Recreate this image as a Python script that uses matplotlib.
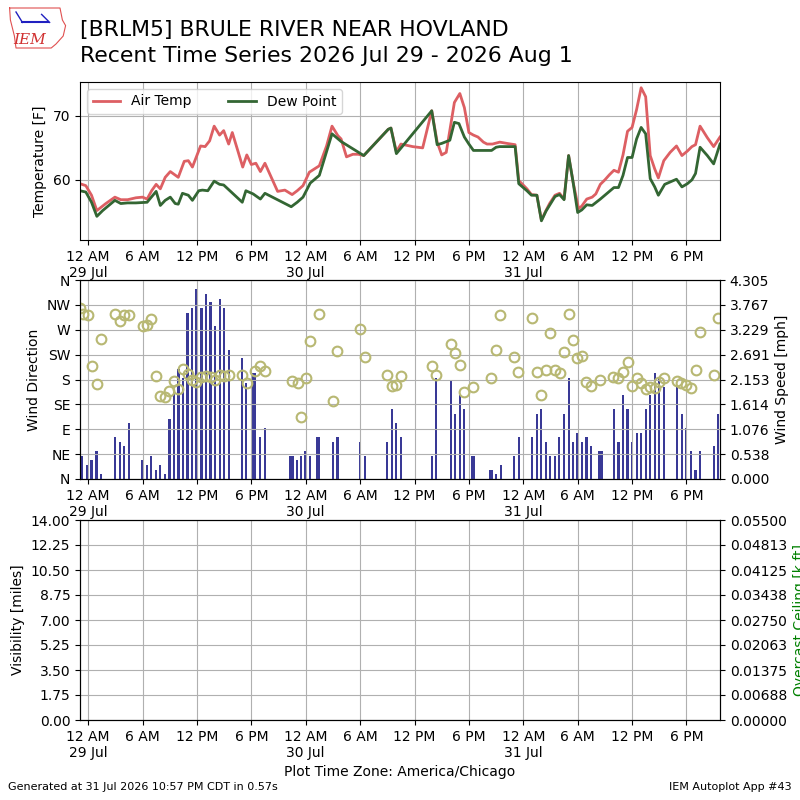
import numpy as np
import matplotlib
matplotlib.use("Agg")
import matplotlib.pyplot as plt
from matplotlib.lines import Line2D

# hours after 12 AM 29 Jul (America/Chicago)
temp_hours = [-0.9, -0.26, 0.37, 0.96, 1.95, 2.95, 3.6, 4.35, 5.27, 6.0, 6.5, 7.0, 7.5, 7.96, 8.5, 9.06,
              9.94, 10.6, 11.05, 11.5, 12.4, 12.9, 13.4, 13.9, 14.5, 14.95, 15.5, 15.9, 16.5, 17.05, 17.5,
              18.0, 18.5, 19.0, 19.5, 20.2, 20.9, 21.7, 22.5, 23.06, 23.7, 24.4, 25.5, 26.3, 26.9, 27.55,
              27.9, 28.5, 29.2, 29.8, 30.4, 33.1, 33.4, 34.0, 34.5, 35.8, 36.9, 37.9, 38.5, 39.0, 39.5,
              40.4, 41.0, 41.5, 42.0, 42.5, 43.0, 43.6, 44.0, 44.6, 45.4, 46.2, 47.1, 47.5, 48.4, 48.9,
              49.5, 50.0, 50.5, 50.9, 51.5, 52.0, 52.5, 53.0, 53.5, 54.1, 54.45, 55.0, 55.6, 56.0, 56.5,
              57.0, 57.5, 58.0, 58.5, 59.0, 59.5, 60.0, 60.5, 61.0, 61.5, 62.0, 62.5, 62.9, 63.5, 64.2,
              64.9, 65.5, 66.1, 66.6, 67.0, 67.5, 68.3, 69.0, 69.7]
temp_vals = [59.4, 59.1, 57.6, 55.2, 56.3, 57.3, 56.9, 56.9, 57.2, 57.3, 57.0, 58.3, 59.3, 58.6, 60.4, 61.3,
             60.4, 62.9, 63.0, 62.0, 65.3, 65.2, 66.1, 68.4, 67.0, 67.7, 65.6, 67.4, 64.6, 62.0, 63.9,
             62.4, 62.6, 61.3, 62.6, 60.4, 58.2, 58.4, 57.7, 58.3, 59.1, 61.2, 62.2, 65.3, 68.4, 66.9,
             66.4, 63.6, 64.0, 64.0, 63.8, 67.9, 68.1, 64.4, 65.6, 65.2, 65.0, 70.8, 65.9, 63.9, 64.3,
             72.1, 73.5, 71.3, 67.4, 67.0, 66.7, 65.9, 65.6, 65.6, 65.9, 65.7, 65.5, 59.9, 58.6, 57.7,
             57.6, 53.7, 55.2, 56.3, 57.6, 57.9, 57.0, 63.8, 59.6, 55.5, 55.9, 57.0, 57.3, 57.8, 59.3,
             60.0, 60.8, 61.5, 61.2, 63.9, 67.6, 68.2, 71.0, 74.4, 73.0, 63.8, 61.7, 60.3, 63.0, 64.3,
             65.3, 63.8, 64.5, 65.2, 65.5, 68.4, 66.6, 65.2, 66.7]

dwpt_hours = [-0.9, -0.26, 0.37, 0.96, 1.6, 2.95, 3.6, 4.35, 5.27, 6.5, 7.5, 7.96, 8.5, 9.06, 9.6, 9.94,
              10.4, 11.05, 11.5, 12.2, 12.6, 13.2, 13.9, 14.5, 14.95, 17.0, 17.4, 18.2, 19.0, 19.5, 22.4,
              23.06, 23.7, 24.5, 25.5, 26.9, 27.9, 30.4, 33.1, 33.4, 34.0, 37.9, 38.5, 39.0, 39.9, 40.4,
              40.9, 41.5, 42.0, 42.5, 44.5, 45.0, 45.4, 47.1, 47.5, 48.4, 48.9, 49.5, 50.0, 50.5, 51.5,
              52.0, 52.5, 53.0, 53.5, 54.0, 54.45, 55.0, 55.6, 56.5, 58.0, 58.5, 59.0, 59.5, 60.0, 60.5,
              61.0, 61.5, 62.0, 62.5, 62.9, 63.6, 64.9, 65.5, 66.1, 66.6, 67.0, 67.5, 68.3, 69.0, 69.7]
dwpt_vals = [58.3, 58.1, 56.5, 54.3, 55.2, 56.8, 56.3, 56.4, 56.4, 56.5, 58.2, 56.0, 56.8, 57.3, 56.3, 56.2,
             57.9, 57.6, 56.8, 58.3, 58.4, 58.3, 59.8, 59.3, 59.2, 56.5, 58.3, 57.8, 57.0, 57.9, 55.8,
             56.5, 57.3, 59.5, 60.7, 67.2, 66.0, 63.8, 67.9, 68.1, 64.1, 70.8, 65.5, 65.7, 66.2, 69.0,
             68.8, 66.7, 65.6, 64.6, 64.6, 65.1, 65.2, 65.2, 59.4, 58.3, 57.6, 57.6, 53.6, 55.1, 57.4,
             57.7, 56.9, 63.8, 59.6, 54.9, 55.3, 56.1, 56.0, 57.0, 58.8, 58.8, 60.7, 63.5, 63.5, 66.4,
             68.2, 67.2, 60.2, 58.9, 57.6, 59.3, 60.1, 58.9, 59.4, 60.0, 61.0, 65.1, 63.8, 62.5, 65.6]

wind_hours = [-0.66, -0.1, 0.37, 0.92, 1.44, 2.95, 3.47, 3.95, 4.5, 5.9, 6.46, 6.94, 7.45, 7.93, 8.45, 8.97,
              9.5, 9.96, 10.5, 10.96, 11.5, 11.9, 12.5, 13.0, 13.5, 14.0, 14.5, 15.0, 15.5, 17.0, 17.45,
              18.2, 18.45, 19.0, 19.5, 22.3, 22.55, 23.0, 23.5, 23.9, 24.5, 25.25, 25.5, 27.0, 27.5, 30.0,
              30.5, 33.0, 33.5, 34.0, 34.5, 37.96, 38.4, 40.0, 40.5, 41.0, 41.5, 42.3, 42.55, 44.3, 44.55,
              45.0, 45.5, 47.0, 47.5, 48.95, 49.5, 49.95, 50.5, 50.95, 51.5, 51.9, 52.5, 53.0, 53.45, 53.9,
              54.5, 54.97, 55.45, 56.4, 56.65, 58.0, 58.5, 59.0, 59.5, 60.0, 60.5, 61.0, 61.5, 62.0, 62.5,
              63.0, 63.5, 65.0, 65.5, 65.95, 66.5, 67.0, 67.5, 69.0, 69.5]
wind_speed = [0.49, 0.30, 0.41, 0.60, 0.11, 0.90, 0.80, 0.71, 1.21, 0.41, 0.30, 0.49, 0.19, 0.30, 0.11, 1.29,
              1.89, 2.39, 2.19, 3.60, 3.71, 4.10, 3.71, 4.00, 3.82, 3.30, 3.90, 3.71, 2.80, 2.61, 2.07,
              2.30, 2.30, 0.90, 1.10, 0.49, 0.49, 0.41, 0.49, 0.60, 0.49, 0.90, 0.90, 0.80, 0.90, 0.80,
              0.49, 0.80, 1.51, 1.21, 0.90, 0.49, 2.19, 2.11, 1.41, 1.81, 1.51, 0.49, 0.49, 0.19, 0.19,
              0.11, 0.30, 0.49, 0.90, 0.90, 1.40, 1.51, 0.80, 0.49, 0.49, 0.90, 1.40, 2.19, 0.80, 0.99,
              0.80, 0.90, 0.71, 0.60, 0.60, 1.51, 0.80, 1.81, 1.51, 0.80, 0.99, 0.99, 1.51, 1.81, 2.30,
              2.19, 2.00, 2.00, 1.40, 1.10, 0.60, 0.19, 0.60, 0.71, 1.40]

dir_hours = [-0.9, -0.6, -0.04, 0.44, 1.0, 1.44, 2.95, 3.47, 3.95, 4.5, 6.0, 6.46, 6.97, 7.45, 7.93, 8.49,
             8.97, 9.5, 9.96, 10.5, 10.96, 11.5, 11.9, 12.5, 13.0, 13.5, 14.0, 14.5, 15.0, 15.5, 17.0, 17.5,
             18.4, 19.0, 19.5, 22.5, 23.1, 23.5, 24.0, 24.5, 25.5, 27.0, 27.5, 30.0, 30.5, 33.0, 33.5,
             34.0, 34.5, 37.9, 38.4, 40.0, 40.5, 41.0, 41.5, 42.5, 44.4, 45.0, 45.45, 47.0, 47.4, 48.95,
             49.5, 49.95, 50.5, 51.0, 51.5, 52.0, 52.5, 53.0, 53.45, 53.9, 54.5, 54.97, 55.45, 56.5,
             57.95, 58.5, 59.0, 59.5, 60.0, 60.5, 61.0, 61.5, 62.0, 62.5, 63.0, 63.5, 64.97, 65.4, 65.9,
             66.45, 67.0, 67.5, 69.0, 69.5]
dir_vals = [309, 299, 296, 204, 171, 253, 298, 286, 297, 297, 276, 278, 289, 187, 151, 149,
            159, 178, 162, 199, 190, 179, 176, 185, 187, 185, 180, 189, 187, 189, 188, 174,
            196, 204, 195, 177, 174, 113, 183, 250, 299, 141, 232, 271, 221, 189, 168,
            170, 186, 204, 189, 245, 228, 207, 157, 166, 182, 234, 296, 220, 194, 291,
            194, 152, 197, 264, 197, 192, 229, 298, 251, 218, 222, 175, 169, 179,
            185, 182, 194, 211, 168, 182, 173, 162, 167, 165, 175, 183, 177, 173, 170,
            165, 198, 266, 188, 292]

dir_labels = ["N", "NE", "E", "SE", "S", "SW", "W", "NW", "N"]
day_labels = ["29 Jul", "30 Jul", "31 Jul"]

# x ticks every 6 hours
tick_hours = list(range(0, 67, 6))
tick_text = []
for h in tick_hours:
    hod = h % 24
    lab = {0: "12 AM", 6: "6 AM", 12: "12 PM", 18: "6 PM"}[hod]
    if hod == 0:
        lab += "\n" + day_labels[h // 24]
    tick_text.append(lab)

xmin, xmax = min(temp_hours), max(temp_hours)

fig = plt.figure(figsize=(8, 8), dpi=100)

def setup_x(ax):
    ax.set_xlim(xmin, xmax)
    ax.set_xticks(tick_hours)
    ax.set_xticklabels(tick_text)
    ax.grid(True, color="#b0b0b0")

#* temperature panel
ax1 = fig.add_axes([0.1, 0.70, 0.8, 0.1975])
ax1.plot(temp_hours, temp_vals, color="#dd5f63", lw=2, label="Air Temp")
ax1.plot(dwpt_hours, dwpt_vals, color="#336633", lw=2, label="Dew Point")
ax1.set_ylim(50.6, 75.3)
ax1.set_yticks([60, 70])
ax1.set_ylabel("Temperature [F]")
setup_x(ax1)
ax1.legend(loc="upper left", ncol=2, columnspacing=2.6)

#* wind panel
ax2 = fig.add_axes([0.1, 0.40125, 0.8, 0.24875])
ax2b = ax2.twinx()
ax2b.bar(wind_hours, wind_speed, width=0.24, color="#393996")
spd_max = 4.3052
ax2b.set_ylim(0, spd_max)
ax2b.set_yticks(np.linspace(0, spd_max, 9))
ax2b.set_yticklabels(["%.3f" % v for v in np.linspace(0, spd_max, 9)])
ax2b.set_ylabel("Wind Speed [mph]")
ax2.set_zorder(ax2b.get_zorder() + 1)
ax2.patch.set_visible(False)
ax2.plot(dir_hours, dir_vals, "o", mfc="none", mec="#b8b873", ms=7, mew=1.5)
ax2.set_ylim(0, 360)
ax2.set_yticks(range(0, 361, 45))
ax2.set_yticklabels(dir_labels)
ax2.set_ylabel("Wind Direction")
setup_x(ax2)

#* visibility panel (no data)
ax3 = fig.add_axes([0.1, 0.10, 0.8, 0.25])
ax3.set_ylim(0, 14)
ax3.set_yticks(np.arange(0, 14.01, 1.75))
ax3.set_yticklabels(["%.2f" % v for v in np.arange(0, 14.01, 1.75)])
ax3.set_ylabel("Visibility [miles]")
setup_x(ax3)
ax3.set_xlabel("Plot Time Zone: America/Chicago")
ax3b = ax3.twinx()
ax3b.set_ylim(0, 0.055)
ax3b.set_yticks(np.linspace(0, 0.055, 9))
ax3b.set_yticklabels(["%.5f" % v for v in np.linspace(0, 0.055, 9)])
ax3b.set_ylabel("Overcast Ceiling [k ft]", color="green")

#* titles and footer
fig.text(0.1, 0.9625, "[BRLM5] BRULE RIVER NEAR HOVLAND", fontsize=15.8, va="center")
fig.text(0.1, 0.93, "Recent Time Series 2026 Jul 29 - 2026 Aug 1", fontsize=15.8, va="center")
fig.text(0.01, 0.012, "Generated at 31 Jul 2026 10:57 PM CDT in 0.57s", fontsize=8)
fig.text(0.99, 0.012, "IEM Autoplot App #43", fontsize=8, ha="right")

# simple logo
ox = [0.012, 0.075, 0.078, 0.082, 0.079, 0.070, 0.064, 0.020, 0.018, 0.013, 0.012]
oy = [0.990, 0.990, 0.975, 0.968, 0.955, 0.945, 0.940, 0.940, 0.955, 0.975, 0.990]
fig.add_artist(Line2D(ox, oy, color="#e05050", lw=0.8, transform=fig.transFigure))
fig.add_artist(Line2D([0.028, 0.060], [0.972, 0.972], color="#2020c0", lw=1.5, transform=fig.transFigure))
fig.add_artist(Line2D([0.020, 0.028], [0.985, 0.972], color="#2020c0", lw=1, transform=fig.transFigure))
fig.add_artist(Line2D([0.052, 0.062], [0.982, 0.972], color="#2020c0", lw=1, transform=fig.transFigure))
fig.text(0.017, 0.945, "IEM", fontsize=11, color="#d03030", style="italic", family="serif")

fig.savefig("out.png", dpi=100)
